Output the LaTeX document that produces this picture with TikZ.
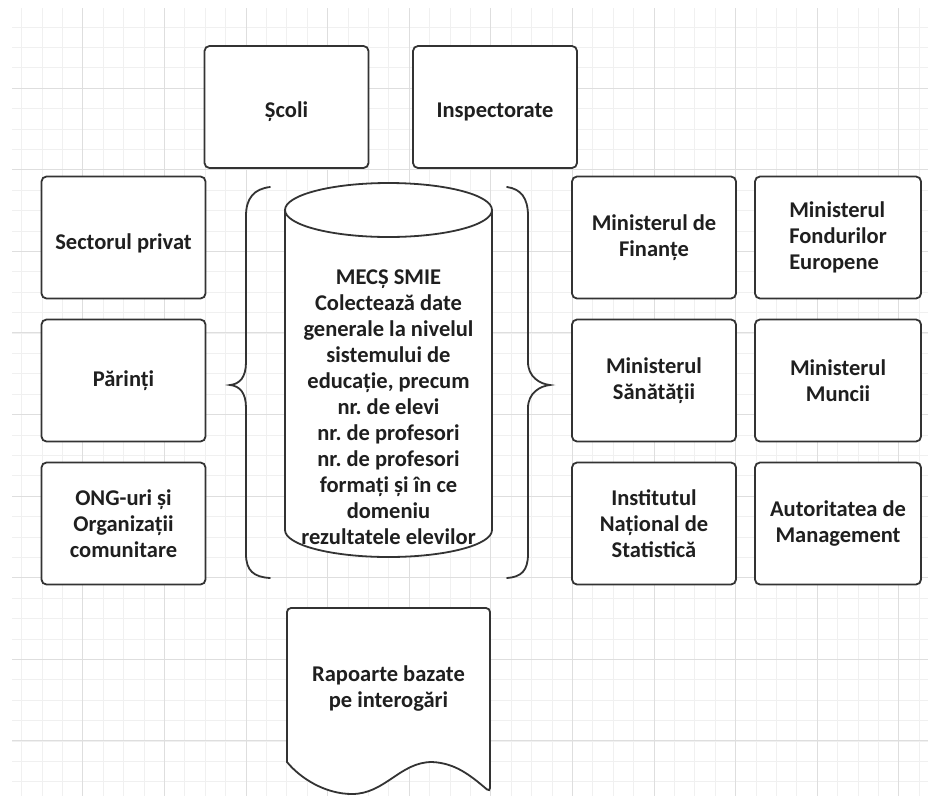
\documentclass[tikz,border=0pt]{standalone}
\usepackage{fontspec}
\setmainfont{Carlito}
\frenchspacing
\begin{document}
\begin{tikzpicture}[x=1pt,y=-1pt,
  line/.style={draw=black!80, line width=1.8pt},
  txt/.style={font=\fontsize{22.5}{26}\selectfont\bfseries\frenchspacing, text=black!88},
  box/.style={line, txt, fill=white, rounded corners=5pt, minimum width=164pt, minimum height=122pt, inner sep=0pt, align=center},
  lbl/.style={txt, align=center, inner sep=0pt},
  gridminor/.style={draw=black!6, line width=0.8pt},
  gridmajor/.style={draw=black!13, line width=0.9pt},
  bracestyle/.style={line, line cap=round},
]
\useasboundingbox (0,0) rectangle (928,796);
\fill[white] (0,0) rectangle (928,796);
% grid
\foreach \k in {1,...,45} {
  \pgfmathsetmacro\xx{1.2+20.4*\k}
  \draw[gridminor] (\xx,8) -- (\xx,796);
}
\foreach \k in {1,...,38} {
  \pgfmathsetmacro\yy{6.5+20.4*\k}
  \draw[gridminor] (12,\yy) -- (928,\yy);
}
\foreach \k in {4,8,...,44} {
  \pgfmathsetmacro\xx{1.2+20.4*\k}
  \draw[gridmajor] (\xx,8) -- (\xx,796);
}
\foreach \k in {4,8,...,36} {
  \pgfmathsetmacro\yy{6.5+20.4*\k}
  \draw[gridmajor] (12,\yy) -- (928,\yy);
}

% top boxes
\node[box] (scoli) at (286.5,107) {};
\node[lbl] (scolit) at ([yshift=-5pt]scoli.center) {Școli};
\node[box] (insp) at (495,107) {};
\node[lbl] (inspt) at ([yshift=-5pt]insp.center) {Inspectorate};
% left column
\node[box] (priv) at (123.5,237.5) {};
\node[lbl] (privt) at ([yshift=-6pt]priv.center) {Sectorul privat};
\node[box] (par) at (123.5,380.5) {Părinți};
\node[box] (ong) at (123.5,523.5) {ONG-uri și\\Organizații\\comunitare};
% right columns
\node[box] (fin) at (654,237.5) {Ministerul de\\Finanțe};
\node[box, minimum width=166pt, align=left] (fe) at (838,237.5) {Ministerul\\Fondurilor\\Europene};
\node[box] (san) at (654,380.5) {Ministerul\\Sănătății};
\node[box, minimum width=166pt] (mun) at (838,380.5) {Ministerul\\Muncii};
\node[box] (ins) at (654,523.5) {Institutul\\Național de\\Statistică};
\node[box, minimum width=166pt] (aut) at (838,523.5) {Autoritatea de\\Management};

% cylinder
\coordinate (cyltl) at (285,210);
\coordinate (cylbl) at (285,530);
\coordinate (cyltr) at (492,210);
\coordinate (cyltc) at (388.5,210);
\draw[line, fill=white] (cyltl) -- (cylbl) arc[start angle=180, end angle=0, x radius=103.5, y radius=27] -- (cyltr) -- cycle;
\draw[line, fill=white] (cyltc) ellipse [x radius=103.5, y radius=27];
\node[lbl] (mecs) at (388.5,407) {MECȘ SMIE\\Colectează date\\generale la nivelul\\sistemului de\\educație, precum\\nr. de elevi\\nr. de profesori\\nr. de profesori\\formați și în ce\\domeniu\\rezultatele elevilor};

% braces
\draw[bracestyle] (270,187) .. controls (254,189) and (246,198) .. (246,216) -- (246,362)
  .. controls (246,377) and (240,384) .. (230,385)
  .. controls (240,386) and (246,393) .. (246,408) -- (246,554)
  .. controls (246,571) and (254,577) .. (270,578);
\draw[bracestyle] (507,187) .. controls (521,189) and (528,198) .. (528,216) -- (528,362)
  .. controls (528,377) and (540,384) .. (550,385)
  .. controls (540,386) and (528,393) .. (528,408) -- (528,554)
  .. controls (528,571) and (521,577) .. (507,578);

% document shape
\draw[line, fill=white, rounded corners=4pt] (287,762) -- (287,608) -- (490,608) -- (490,792)
  [sharp corners] .. controls (470,775) and (455,763) .. (432,762)
  .. controls (400,762) and (385,794) .. (352,794)
  .. controls (325,794) and (300,778) .. (287,762) -- cycle;
\node[lbl] (rap) at (388.5,688) {Rapoarte bazate\\pe interogări};
\end{tikzpicture}
\end{document}
